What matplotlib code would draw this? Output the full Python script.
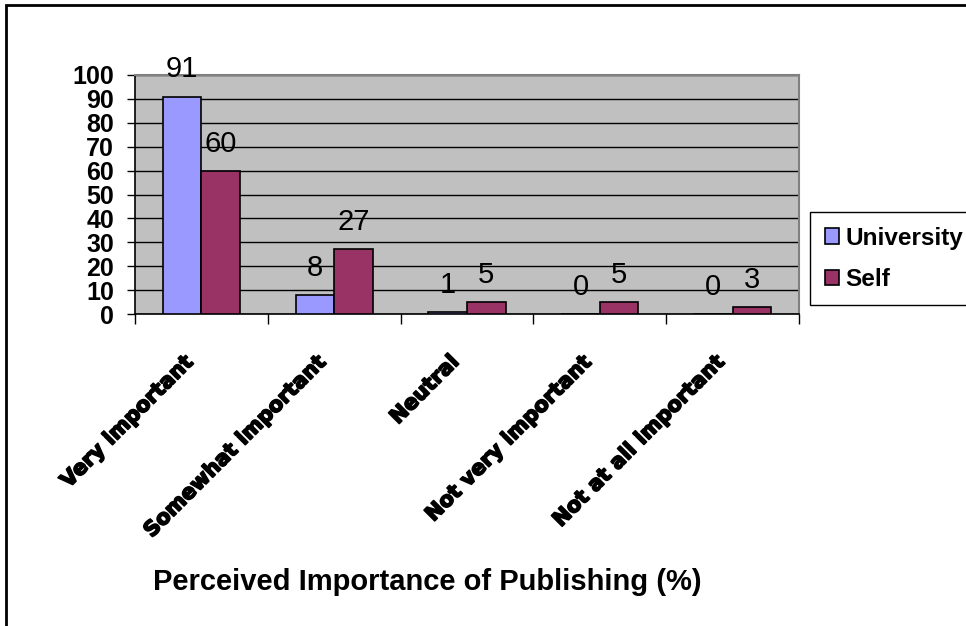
import matplotlib
matplotlib.use("Agg")
import matplotlib.pyplot as plt
import matplotlib.patheffects as pe
import numpy as np
from matplotlib.patches import Rectangle, Patch

categories = ["Very important", "Somewhat important", "Neutral",
              "Not very important", "Not at all important"]
university = [91, 8, 1, 0, 0]
self_vals = [60, 27, 5, 5, 3]
series_names = ["University", "Self"]
yticks = list(range(0, 101, 10))
title = "Perceived Importance of Publishing (%)"

plt.rcParams['font.family'] = ['Liberation Sans', 'DejaVu Sans']

fig = plt.figure(figsize=(9.66, 6.26), dpi=100)
ax = fig.add_axes([135/966, 1-314/626, 664/966, 239/626])
ax.set_facecolor('#C0C0C0')

x = np.arange(len(categories))
w = 0.29
b1 = ax.bar(x - w/2, university, w, color='#9999FF', edgecolor='black', linewidth=1.2, zorder=3)
b2 = ax.bar(x + w/2, self_vals, w, color='#993366', edgecolor='black', linewidth=1.2, zorder=3)

for bars, vals in ((b1, university), (b2, self_vals)):
    for r, v in zip(bars, vals):
        ax.annotate(str(v), (r.get_x() + r.get_width()/2, v), xytext=(0, 19.5),
                    textcoords='offset points', ha='center', va='center',
                    fontsize=21, color='black', zorder=4)

ax.set_xlim(-0.5, len(categories) - 0.5)
ax.set_ylim(0, 100)
ax.set_yticks(yticks)
ax.set_yticklabels([str(t) for t in yticks], fontsize=18, fontweight='bold')
ax.yaxis.grid(True, color='black', linewidth=1.0, zorder=1)
ax.set_axisbelow(True)
ax.tick_params(axis='y', direction='out', length=6, width=1, pad=9)

ax.set_xticks(x)
ax.set_xticklabels([''] * len(categories))
ax.set_xticks(np.arange(-0.5, len(categories) + 0.5, 1), minor=True)
ax.tick_params(axis='x', which='major', length=0)
ax.tick_params(axis='x', which='minor', direction='out', length=7, width=1)

for i, c in enumerate(categories):
    ax.annotate(c, (i, 0), xycoords=ax.get_xaxis_transform(),
                xytext=(-8, -32), textcoords='offset points',
                ha='right', va='center', rotation=45, rotation_mode='anchor',
                fontsize=15, fontweight='bold', family=['DejaVu Sans'],
                annotation_clip=False,
                path_effects=[pe.withStroke(linewidth=1.2, foreground='black')])

for s in ('top', 'right'):
    ax.spines[s].set_color('#808080')
    ax.spines[s].set_linewidth(1.5)
for s in ('left', 'bottom'):
    ax.spines[s].set_color('black')
    ax.spines[s].set_linewidth(1.2)

handles = [Patch(facecolor='#9999FF', edgecolor='black', linewidth=1.2),
           Patch(facecolor='#993366', edgecolor='black', linewidth=1.2)]
leg = fig.legend(handles, series_names, loc='upper left',
                 bbox_to_anchor=(810/966, 1-212/626),
                 prop={'size': 17.5, 'weight': 'bold'},
                 handlelength=0.6, handleheight=0.6, handletextpad=0.25,
                 labelspacing=0.75, borderpad=0.6, borderaxespad=0,
                 fancybox=False, framealpha=1, edgecolor='black')
leg.get_frame().set_linewidth(1.0)

fig.text(427/966, 1-582/626, title, ha='center', va='center',
         fontsize=21, fontweight='bold')

fig.patches.append(Rectangle((6/966, -0.1), 1.2, 1.1 - 5/626,
                             transform=fig.transFigure, fill=False,
                             edgecolor='black', linewidth=2, clip_on=False))

fig.savefig('out.png', dpi=100)
